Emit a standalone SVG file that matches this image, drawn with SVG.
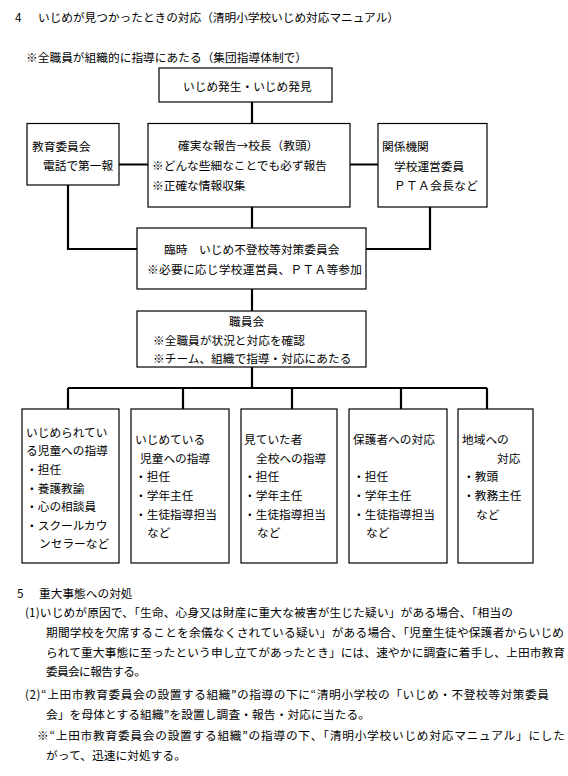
<svg xmlns="http://www.w3.org/2000/svg" width="568" height="776" viewBox="0 0 568 776">
<style>
text{font-family:"Noto Sans CJK JP","Noto Sans CJK SC",sans-serif;font-size:11.7px;fill:#000}
.box{fill:#fff;stroke:#000;stroke-width:1.2}
.con{stroke:#000;stroke-width:2.2;fill:none}
</style>
<rect width="568" height="776" fill="#fff"/>
<g id="title">
<text x="15" y="22.4">4</text>
<text x="38" y="22.4" textLength="361" lengthAdjust="spacing">いじめが見つかったときの対応（清明小学校いじめ対応マニュアル）</text>
<text x="26" y="62.4" textLength="281" lengthAdjust="spacing">※全職員が組織的に指導にあたる（集団指導体制で）</text>
</g>
<g id="connectors">
<path class="con" d="M252 102V123.5M119 164.5H148M350 164.5H378M68 185V249H137M430 207V249H366M252 207V228M252 289V311M252 367V388M68 388H487M68 388V409M183 388V409M292 388V409M401 388V409M487 388V409"/>
</g>
<g id="n-discovery">
<rect class="box" x="159" y="68" width="173" height="34"/>
<text x="183" y="91.4">いじめ発生・いじめ発見</text>
</g>
<g id="n-board">
<rect class="box" x="27" y="123.5" width="92" height="61.5"/>
<text x="32" y="151.4">教育委員会</text>
<text x="43" y="170.4">電話で第一報</text>
</g>
<g id="n-report">
<rect class="box" x="148" y="123.5" width="202" height="83.5"/>
<text x="178" y="150.4">確実な報告→校長（教頭）</text>
<text x="152" y="170.4">※どんな些細なことでも必ず報告</text>
<text x="152" y="190.4">※正確な情報収集</text>
</g>
<g id="n-agencies">
<rect class="box" x="378" y="123.5" width="109" height="83.5"/>
<text x="382" y="151.4">関係機関</text>
<text x="394" y="171.4">学校運営委員</text>
<text x="394" y="190.4" textLength="84" lengthAdjust="spacing">ＰＴＡ会長など</text>
</g>
<g id="n-committee">
<rect class="box" x="137" y="228" width="229" height="61"/>
<text x="164" y="254.4">臨時　いじめ不登校等対策委員会</text>
<text x="147" y="274.4" textLength="215" lengthAdjust="spacing">※必要に応じ学校運営員、ＰＴＡ等参加</text>
</g>
<g id="n-staff">
<rect class="box" x="137" y="311" width="229" height="56"/>
<text x="229" y="326.4">職員会</text>
<text x="153" y="345.4">※全職員が状況と対応を確認</text>
<text x="153" y="363.4">※チーム、組織で指導・対応にあたる</text>
</g>
<g id="n-victim">
<rect class="box" x="22" y="409" width="97" height="154"/>
<text x="26" y="437.4">いじめられてい</text>
<text x="26" y="455.4">る児童への指導</text>
<text x="26" y="474.4">・担任</text>
<text x="26" y="493.4">・養護教諭</text>
<text x="26" y="511.4">・心の相談員</text>
<text x="26" y="530.4">・スクールカウ</text>
<text x="39" y="548.4">ンセラーなど</text>
</g>
<g id="n-bully">
<rect class="box" x="131" y="409" width="98" height="154"/>
<text x="135" y="444.4">いじめている</text>
<text x="140" y="463.4">児童への指導</text>
<text x="135" y="481.4">・担任</text>
<text x="135" y="500.4">・学年主任</text>
<text x="135" y="519.4">・生徒指導担当</text>
<text x="147" y="537.4">など</text>
</g>
<g id="n-witness">
<rect class="box" x="241" y="409" width="96" height="154"/>
<text x="244" y="444.4">見ていた者</text>
<text x="256" y="463.4">全校への指導</text>
<text x="244" y="481.4">・担任</text>
<text x="244" y="500.4">・学年主任</text>
<text x="244" y="519.4">・生徒指導担当</text>
<text x="257" y="537.4">など</text>
</g>
<g id="n-guardian">
<rect class="box" x="349" y="409" width="98" height="154"/>
<text x="353" y="444.4">保護者への対応</text>
<text x="353" y="481.4">・担任</text>
<text x="353" y="500.4">・学年主任</text>
<text x="353" y="519.4">・生徒指導担当</text>
<text x="366" y="537.4">など</text>
</g>
<g id="n-community">
<rect class="box" x="458" y="409" width="75" height="154"/>
<text x="462" y="444.4">地域への</text>
<text x="497" y="463.4">対応</text>
<text x="463" y="481.4">・教頭</text>
<text x="463" y="500.4">・教務主任</text>
<text x="476" y="519.4">など</text>
</g>
<g id="section5">
<text x="17" y="598.4">5</text>
<text x="39" y="598.4">重大事態への対処</text>
<text x="25" y="617.4" textLength="488" lengthAdjust="spacing">(1)いじめが原因で、「生命、心身又は財産に重大な被害が生じた疑い」がある場合、「相当の</text>
<text x="46" y="637.4" textLength="518" lengthAdjust="spacing">期間学校を欠席することを余儀なくされている疑い」がある場合、「児童生徒や保護者からいじめ</text>
<text x="46" y="657.4" textLength="519" lengthAdjust="spacing">られて重大事態に至ったという申し立てがあったとき」には、速やかに調査に着手し、上田市教育</text>
<text x="46" y="676.4" textLength="100" lengthAdjust="spacing">委員会に報告する。</text>
<text x="25" y="699.4" textLength="524" lengthAdjust="spacing">(2)“上田市教育委員会の設置する組織”の指導の下に“清明小学校の「いじめ・不登校等対策委員</text>
<text x="46" y="719.4" textLength="324" lengthAdjust="spacing">会」を母体とする組織”を設置し調査・報告・対応に当たる。</text>
<text x="37" y="740.4" textLength="528" lengthAdjust="spacing">※“上田市教育委員会の設置する組織”の指導の下、「清明小学校いじめ対応マニュアル」にした</text>
<text x="46" y="760.4" textLength="140" lengthAdjust="spacing">がって、迅速に対処する。</text>
</g>
</svg>
